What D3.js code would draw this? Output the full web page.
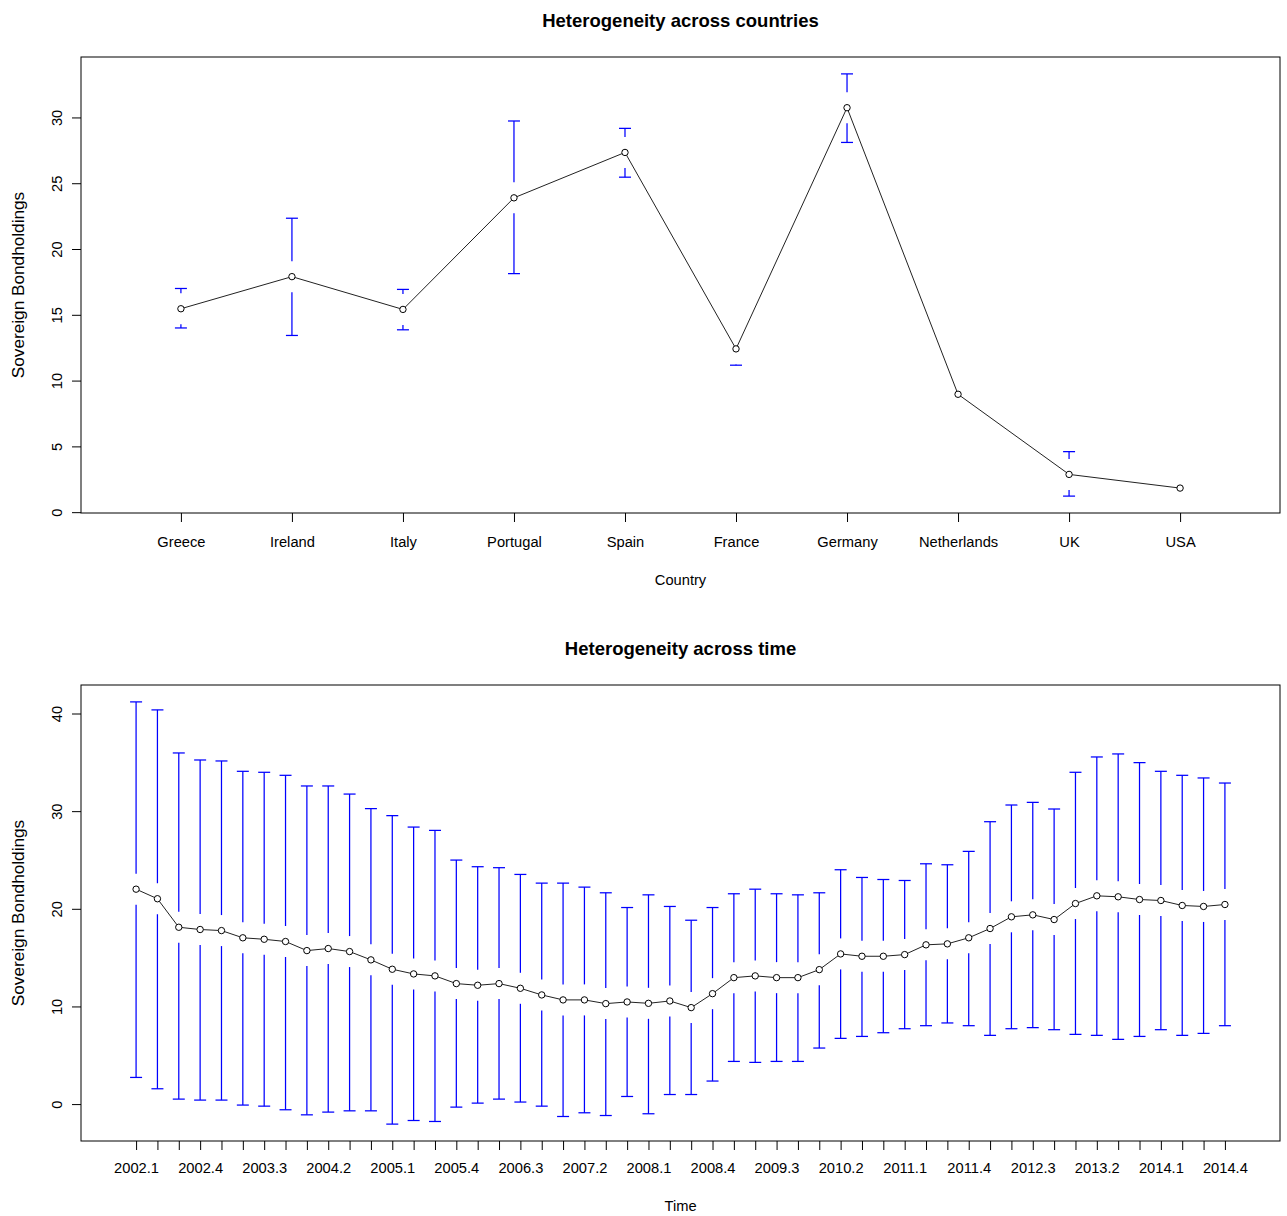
<!DOCTYPE html>
<html>
<head>
<meta charset="utf-8">
<script src="https://cdn.jsdelivr.net/npm/d3@7"></script>
<style>
  body { margin: 0; background: white; }
  text { font-family: "Liberation Sans", Arial, sans-serif; fill: #000; }
</style>
</head>
<body>
<div id="container"></div>
<script>
// --- data: heterogeneity across countries ---
var countries = ['Greece', 'Ireland', 'Italy', 'Portugal', 'Spain', 'France', 'Germany', 'Netherlands', 'UK', 'USA'];
var countryMean  = [15.46, 17.90, 15.41, 23.89, 27.34, 12.41, 30.74, 8.96, 2.87, 1.83];
var countryLower = [14.00, 13.43, 13.86, 18.13, 25.46, 11.17, 28.10, 8.15, 1.22, 1.83];
var countryUpper = [17.00, 22.34, 16.93, 29.73, 29.17, 13.56, 33.31, 9.80, 4.60, 1.83];
var countryTicks = [0, 5, 10, 15, 20, 25, 30];

// --- data: heterogeneity across time ---
var quarters = ['2002.1', '2002.2', '2002.3', '2002.4', '2003.1', '2003.2', '2003.3', '2003.4',
  '2004.1', '2004.2', '2004.3', '2004.4', '2005.1', '2005.2', '2005.3', '2005.4',
  '2006.1', '2006.2', '2006.3', '2006.4', '2007.1', '2007.2', '2007.3', '2007.4',
  '2008.1', '2008.2', '2008.3', '2008.4', '2009.1', '2009.2', '2009.3', '2009.4',
  '2010.1', '2010.2', '2010.3', '2010.4', '2011.1', '2011.2', '2011.3', '2011.4',
  '2012.1', '2012.2', '2012.3', '2012.4', '2013.1', '2013.2', '2013.3', '2013.4',
  '2014.1', '2014.2', '2014.3', '2014.4'];
var timeMean = [22.01, 21.03, 18.11, 17.88, 17.77, 17.03, 16.88, 16.65, 15.72, 15.93, 15.62, 14.77, 13.81,
  13.33, 13.13, 12.34, 12.17, 12.34, 11.86, 11.18, 10.67, 10.67, 10.29, 10.46, 10.32, 10.56,
  9.88, 11.31, 12.95, 13.13, 12.95, 12.95, 13.77, 15.38, 15.14, 15.14, 15.31, 16.31, 16.41,
  17.03, 17.98, 19.18, 19.38, 18.90, 20.54, 21.33, 21.23, 20.95, 20.85, 20.34, 20.24, 20.44];
var timeUpper = [41.19, 40.37, 35.96, 35.24, 35.14, 34.08, 33.98, 33.67, 32.58, 32.58, 31.75, 30.26, 29.54,
  28.37, 28.03, 24.99, 24.31, 24.21, 23.52, 22.63, 22.63, 22.22, 21.64, 20.13, 21.43, 20.24,
  18.83, 20.13, 21.54, 22.01, 21.54, 21.43, 21.64, 24.00, 23.21, 23.00, 22.90, 24.61, 24.51,
  25.88, 28.92, 30.63, 30.90, 30.22, 33.98, 35.55, 35.86, 34.97, 34.08, 33.67, 33.40, 32.88];
var timeLower = [2.73, 1.57, 0.51, 0.41, 0.41, -0.10, -0.21, -0.58, -1.10, -0.82, -0.69, -0.69, -2.05,
  -1.68, -1.78, -0.31, 0.10, 0.51, 0.21, -0.21, -1.27, -0.89, -1.17, 0.78, -0.99, 0.98,
  0.98, 2.36, 4.37, 4.27, 4.37, 4.37, 5.74, 6.73, 6.93, 7.31, 7.72, 8.03, 8.31,
  8.03, 7.04, 7.72, 7.83, 7.62, 7.14, 7.04, 6.63, 6.93, 7.62, 7.04, 7.24, 8.03];
var timeTicks = [0, 10, 20, 30, 40];

var svgWidth = 1287,
    svgHeight = 1216,
    svg = d3.select('#container').append('svg').attr('width', svgWidth).attr('height', svgHeight).style('background-color', 'white');

// R style range: extend by 4% on each side
function rlim(a, b) { var d = (b - a) * 0.04; return [a - d, b + d]; }

var gap = 15.5, cap = 6;

function panel(opt) {
  var n = opt.names.length;
  var left = 81, right = 1280, top = opt.top, bottom = opt.bottom;

  var x = d3.scaleLinear().domain(rlim(0.5, n + 0.5)).range([left, right]);
  var y = d3.scaleLinear().domain(rlim(d3.min(opt.lower), d3.max(opt.upper))).range([bottom, top]);

  var idx = d3.range(1, n + 1);

  // title
  svg.append('text')
    .attr('x', (left + right) / 2).attr('y', top - 30.5)
    .attr('text-anchor', 'middle')
    .style('font-size', '18.5px').style('font-weight', 'bold')
    .text(opt.title);

  // x axis
  var xa = svg.append('g').attr('class', 'axis axis-x')
    .attr('transform', 'translate(0,' + bottom + ')')
    .call(d3.axisBottom(x).tickValues(idx).tickSize(9).tickSizeOuter(0)
      .tickFormat(function(i) { return (i - 1) % opt.every === 0 ? opt.names[i - 1] : ''; }));
  xa.select('.domain').remove();
  xa.selectAll('line').attr('stroke', '#000');
  xa.selectAll('text').attr('y', opt.labOff).attr('dy', null).style('font-size', '14.7px').attr('fill', '#000');

  svg.append('text')
    .attr('x', (left + right) / 2).attr('y', bottom + opt.labOff + 38)
    .attr('text-anchor', 'middle').style('font-size', '14.7px')
    .text(opt.xlab);

  // y axis
  var ya = svg.append('g').attr('class', 'axis axis-y')
    .attr('transform', 'translate(' + left + ',0)')
    .call(d3.axisLeft(y).tickValues(opt.ticks).tickSize(9).tickSizeOuter(0));
  ya.select('.domain').remove();
  ya.selectAll('line').attr('stroke', '#000');
  ya.selectAll('text')
    .attr('x', 0).attr('y', -19).attr('dy', null)
    .attr('transform', 'rotate(-90)')
    .attr('text-anchor', 'middle')
    .style('font-size', '14.7px').attr('fill', '#000');

  svg.append('text')
    .attr('transform', 'translate(24,' + ((top + bottom) / 2) + ') rotate(-90)')
    .attr('text-anchor', 'middle').style('font-size', '17.2px')
    .text('Sovereign Bondholdings');

  // box
  svg.append('rect')
    .attr('x', left).attr('y', top).attr('width', right - left).attr('height', bottom - top)
    .attr('fill', 'none').attr('stroke', '#000').attr('stroke-width', 1);

  // error bars (with a gap around the point, like plotCI)
  var eb = svg.append('g').attr('stroke', '#0000FF').attr('stroke-width', 1.25).attr('fill', 'none');
  idx.forEach(function(i) {
    var cx = x(i),
        cy = y(opt.mean[i - 1]),
        yu = y(opt.upper[i - 1]),
        yl = y(opt.lower[i - 1]);
    if (yu < cy - gap) {
      eb.append('line').attr('x1', cx).attr('x2', cx).attr('y1', cy - gap).attr('y2', yu);
      eb.append('line').attr('x1', cx - cap).attr('x2', cx + cap).attr('y1', yu).attr('y2', yu);
    }
    if (yl > cy + gap) {
      eb.append('line').attr('x1', cx).attr('x2', cx).attr('y1', cy + gap).attr('y2', yl);
      eb.append('line').attr('x1', cx - cap).attr('x2', cx + cap).attr('y1', yl).attr('y2', yl);
    }
  });

  var line = d3.line()
    .x(function(i) { return x(i); })
    .y(function(i) { return y(opt.mean[i - 1]); });

  svg.append('path')
    .datum(idx)
    .attr('fill', 'none')
    .attr('stroke', '#222')
    .attr('stroke-width', 1)
    .attr('d', line);

  svg.append('g').selectAll('circle')
    .data(idx).enter().append('circle')
    .attr('cx', function(i) { return x(i); })
    .attr('cy', function(i) { return y(opt.mean[i - 1]); })
    .attr('r', 3.2)
    .attr('fill', 'white')
    .attr('stroke', '#000')
    .attr('stroke-width', 1);
}

panel({
  title: 'Heterogeneity across countries', xlab: 'Country',
  names: countries, mean: countryMean, lower: countryLower, upper: countryUpper,
  ticks: countryTicks, every: 1, top: 57, bottom: 513, labOff: 34
});

panel({
  title: 'Heterogeneity across time', xlab: 'Time',
  names: quarters, mean: timeMean, lower: timeLower, upper: timeUpper,
  ticks: timeTicks, every: 3, top: 685, bottom: 1141, labOff: 32
});
</script>
</body>
</html>
